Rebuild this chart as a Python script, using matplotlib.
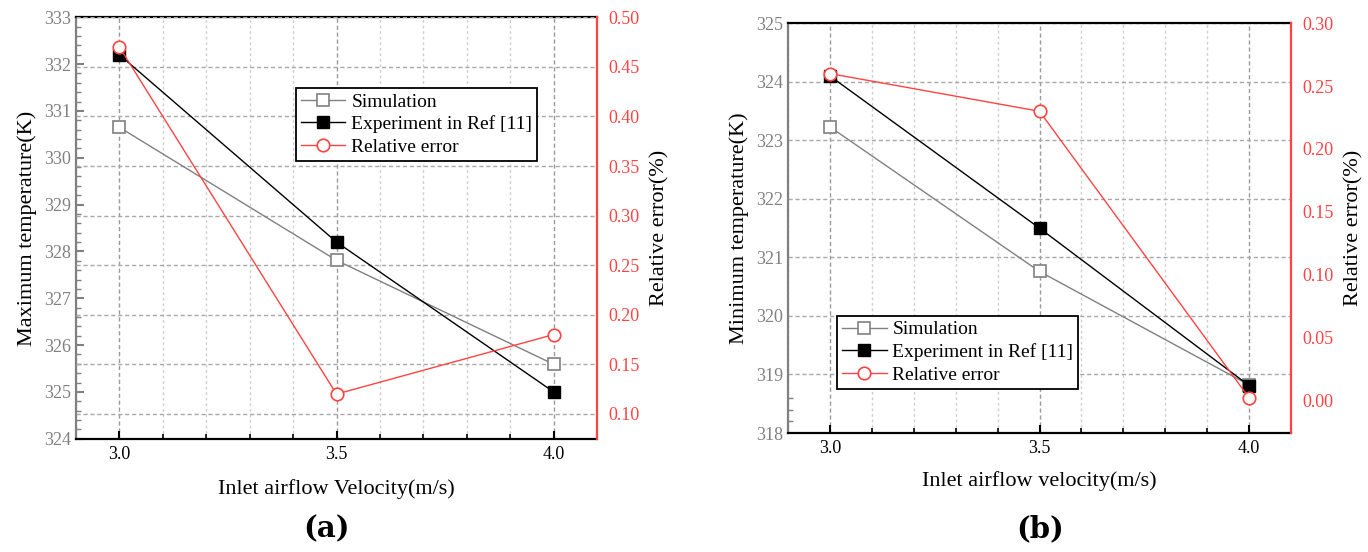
import matplotlib
matplotlib.use("Agg")
import matplotlib.pyplot as plt
from matplotlib.ticker import MultipleLocator, FixedLocator, FormatStrFormatter

plt.rcParams["font.family"] = ["Liberation Serif", "DejaVu Serif"]

# velocities (m/s)
velocity = [3.0, 3.5, 4.0]

# (a) maximum temperature
max_sim = [330.65, 327.81, 325.59]
max_exp = [332.2, 328.2, 325.0]
max_err = [0.47, 0.12, 0.18]

# (b) minimum temperature
min_sim = [323.23, 320.76, 318.82]
min_exp = [324.1, 321.5, 318.81]
min_err = [0.26, 0.23, 0.002]

RED = "#ff4343"
GREY = "#808080"
LEG_LABELS = ["Simulation", "Experiment in Ref [11]", "Relative error"]


def style_axes(ax1, ax2):
    for s in ["left", "top", "bottom"]:
        ax1.spines[s].set_linewidth(1.6)
    ax1.spines["left"].set_color(GREY)
    ax1.spines["right"].set_visible(False)
    for s in ["left", "top", "bottom"]:
        ax2.spines[s].set_visible(False)
    ax2.spines["right"].set_color(RED)
    ax2.spines["right"].set_linewidth(1.6)

    ax1.set_xlim(2.9, 4.1)
    ax1.set_xticks(velocity)
    ax1.xaxis.set_major_formatter(FormatStrFormatter("%.1f"))
    ax1.xaxis.set_minor_locator(MultipleLocator(0.1))
    ax1.tick_params(axis="x", which="major", direction="in", length=6, width=1.5,
                    labelsize=13, pad=5, colors="black")
    ax1.tick_params(axis="x", which="minor", direction="in", length=3.5, width=1.2)
    ax1.tick_params(axis="y", which="both", direction="in", color=GREY,
                    labelcolor=GREY, labelsize=13)
    ax1.tick_params(axis="y", which="major", length=6, width=1.5)
    ax1.tick_params(axis="y", which="minor", length=3.5, width=1.0)
    ax2.tick_params(axis="y", length=0, labelcolor=RED, labelsize=13, pad=8)
    ax2.yaxis.set_major_formatter(FormatStrFormatter("%.2f"))

    # vertical grid: major dashed, minor lighter
    ax1.grid(True, axis="x", which="major", linestyle=(0, (3, 2)), color="#9a9a9a", linewidth=1.0)
    ax1.grid(True, axis="x", which="minor", linestyle=(0, (2, 2)), color="#cfcfcf", linewidth=1.0)


def draw_panel(ax1, ax2, sim, exp, err, on_top):
    # temperatures go on whichever axes is drawn on top of the grid
    tr = ax1.transData
    h1, = on_top.plot(velocity, sim, color=GREY, lw=1.0, marker="s", ms=8,
                      mfc="white", mec=GREY, mew=1.2, transform=tr)
    h2, = on_top.plot(velocity, exp, color="black", lw=1.0, marker="s", ms=8.5,
                      mfc="black", mec="black", transform=tr)
    h3, = ax2.plot(velocity, err, color=RED, lw=1.0, marker="o", ms=9,
                   mfc="white", mec=RED, mew=1.2)
    return [h1, h2, h3]


def add_legend(ax, handles, anchor):
    leg = ax.legend(handles, LEG_LABELS, loc="upper left", bbox_to_anchor=anchor,
                    borderaxespad=0, fontsize=14, frameon=True, fancybox=False,
                    edgecolor="black", framealpha=1, handlelength=2.3,
                    handletextpad=0.3, labelspacing=0.25, borderpad=0.25,
                    numpoints=1)
    leg.get_frame().set_linewidth(1.3)


fig = plt.figure(figsize=(13.68, 5.52), dpi=100)

# ---------------- (a) ----------------
axa = fig.add_axes([76 / 1368, 1 - 438.7 / 552, 521 / 1368, 421.4 / 552])
axa2 = axa.twinx()
style_axes(axa, axa2)
axa.set_ylim(324, 333)
axa.yaxis.set_major_locator(MultipleLocator(1))
axa.yaxis.set_minor_locator(MultipleLocator(0.2))
axa2.set_ylim(0.075, 0.5)
axa2.set_yticks([0.10, 0.15, 0.20, 0.25, 0.30, 0.35, 0.40, 0.45, 0.50])
axa2.grid(True, axis="y", linestyle=(0, (3, 2)), color="#a8a8a8", linewidth=1.0)
hs = draw_panel(axa, axa2, max_sim, max_exp, max_err, axa2)
axa.set_xlabel("Inlet airflow Velocity(m/s)", fontsize=16, labelpad=12)
axa.set_ylabel("Maximum temperature(K)", fontsize=16, labelpad=5)
axa2.set_ylabel("Relative error(%)", fontsize=16, labelpad=8)
add_legend(axa2, hs, (0.422, 0.832))

# ---------------- (b) ----------------
axb = fig.add_axes([788 / 1368, 1 - 433 / 552, 503 / 1368, 409.7 / 552])
axb2 = axb.twinx()
style_axes(axb, axb2)
axb.set_ylim(318, 325)
axb.yaxis.set_major_locator(MultipleLocator(1))
axb.yaxis.set_minor_locator(FixedLocator([318.2, 318.4, 318.6]))
axb.tick_params(axis="y", which="major", length=0)
axb2.set_ylim(-0.026, 0.30)
axb2.set_yticks([0.00, 0.05, 0.10, 0.15, 0.20, 0.25, 0.30])
axb.grid(True, axis="y", which="major", linestyle=(0, (3, 2)), color="#a8a8a8", linewidth=1.0)
hs = draw_panel(axb, axb2, min_sim, min_exp, min_err, axb)
axb.set_xlabel("Inlet airflow velocity(m/s)", fontsize=16, labelpad=10)
axb.set_ylabel("Minimum temperature(K)", fontsize=16, labelpad=5)
axb2.set_ylabel("Relative error(%)", fontsize=16, labelpad=8)
add_legend(axb2, hs, (0.0974, 0.2856))

fig.text(326 / 1368, 1 - 529 / 552, "(a)", fontsize=21, fontweight="bold",
         ha="center", va="center", family=["DejaVu Serif"])
fig.text(1040 / 1368, 1 - 529 / 552, "(b)", fontsize=21, fontweight="bold",
         ha="center", va="center", family=["DejaVu Serif"])

fig.savefig("out.png", dpi=100)
